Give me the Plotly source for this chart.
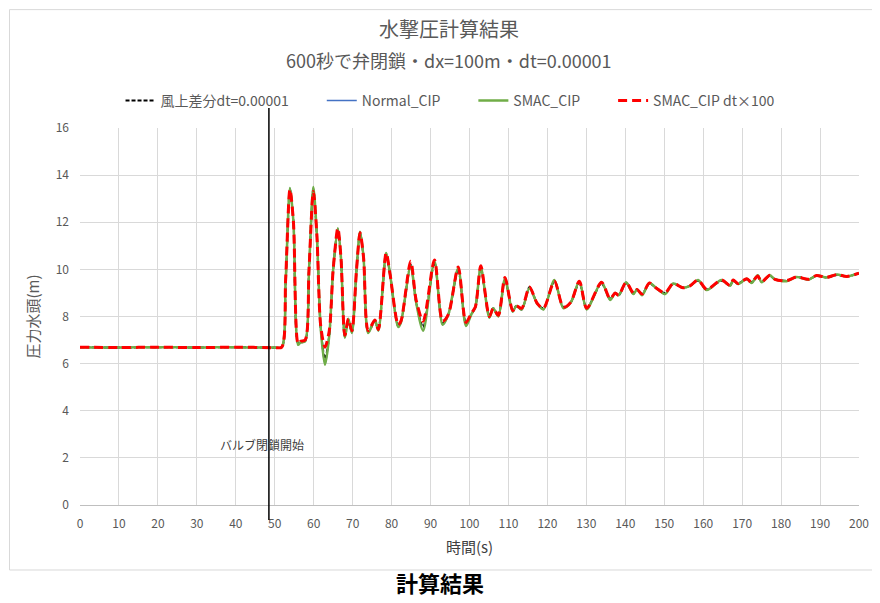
import plotly.graph_objects as go

# ---- data ----
time_s = [0, 10, 20, 30, 40, 50, 51.8, 52.8, 53.9, 54.8, 56.0, 56.6, 57.8, 58.8, 59.9, 60.8,
          61.8, 62.9, 64.0, 65.0, 66.2, 67.0, 68.0, 68.9, 69.8, 71.0, 71.9, 72.8, 74.0, 75.7,
          76.6, 78.6, 79.6, 81.7, 82.4, 84.9, 86.3, 88.1, 91.0, 93.1, 94.6, 97.1, 99.1, 100.5,
          101.5, 102.9, 105.1, 106.1, 107.4, 109.1, 111.1, 112.0, 113.4, 115.4, 117.4, 119.0,
          121.8, 124.1, 126.0, 128.2, 130.1, 133.9, 136.1, 137.4, 138.3, 140.2, 142.1, 143.0,
          144.3, 146.2, 148.0, 150.2, 152.3, 154.8, 156.6, 158.7, 160.9, 164.7, 166.9, 167.7,
          168.9, 171.2, 172.4, 174.0, 175.0, 177.1, 178.4, 181.4, 184.0, 187.0, 189.1, 191.7,
          194.3, 196.9, 200.0]

smac_cip = [6.70, 6.68, 6.70, 6.68, 6.70, 6.68, 6.70, 9.50, 13.45, 12.00, 6.80, 6.90, 6.95, 10.0, 13.50, 11.50,
            7.50, 5.95, 7.20, 10.0, 11.75, 10.50, 7.10, 7.90, 7.30, 10.0, 11.60, 10.50, 7.30, 7.85,
            7.40, 10.70, 9.80, 7.55, 7.75, 10.15, 8.60, 7.40, 10.35, 7.65, 8.10, 10.05, 7.60, 8.10,
            8.40, 10.10, 7.95, 8.35, 8.00, 9.60, 8.20, 8.45, 8.30, 9.20, 8.55, 8.30,
            9.55, 8.35, 8.60, 9.50, 8.30, 9.45, 8.70, 9.00, 8.90, 9.45, 8.95, 9.15,
            8.90, 9.42, 9.20, 8.95, 9.40, 9.22, 9.30, 9.55, 9.12, 9.55, 9.30, 9.55,
            9.38, 9.60, 9.42, 9.75, 9.45, 9.75, 9.58, 9.50, 9.68, 9.56, 9.74, 9.66,
            9.78, 9.70, 9.84]

normal_cip = [6.70, 6.68, 6.70, 6.68, 6.70, 6.68, 6.70, 9.50, 13.45, 12.00, 6.80, 6.90, 6.95, 10.0, 13.50, 11.50,
              7.50, 5.97, 7.20, 10.0, 11.75, 10.50, 7.10, 7.90, 7.30, 10.0, 11.60, 10.50, 7.30, 7.85,
              7.40, 10.70, 9.80, 7.55, 7.75, 10.15, 8.60, 7.40, 10.35, 7.65, 8.10, 10.05, 7.60, 8.10,
              8.40, 10.10, 7.95, 8.35, 8.00, 9.60, 8.20, 8.45, 8.30, 9.20, 8.55, 8.30,
              9.55, 8.35, 8.60, 9.50, 8.30, 9.45, 8.70, 9.00, 8.90, 9.45, 8.95, 9.15,
              8.90, 9.42, 9.20, 8.95, 9.40, 9.22, 9.30, 9.55, 9.12, 9.55, 9.30, 9.55,
              9.38, 9.60, 9.42, 9.75, 9.45, 9.75, 9.58, 9.50, 9.68, 9.56, 9.74, 9.66,
              9.78, 9.70, 9.84]

upwind = [6.70, 6.68, 6.70, 6.68, 6.70, 6.68, 6.70, 9.40, 13.40, 12.00, 6.85, 6.90, 6.95, 10.0, 13.40, 11.50,
          7.50, 6.20, 7.20, 10.0, 11.70, 10.50, 7.15, 7.80, 7.35, 10.0, 11.55, 10.50, 7.35, 7.80,
          7.45, 10.65, 9.80, 7.60, 7.75, 10.20, 8.60, 7.55, 10.30, 7.70, 8.10, 10.00, 7.70, 8.10,
          8.40, 10.05, 8.00, 8.35, 8.05, 9.55, 8.25, 8.45, 8.30, 9.25, 8.55, 8.35,
          9.50, 8.40, 8.60, 9.45, 8.35, 9.40, 8.75, 9.00, 8.90, 9.42, 9.00, 9.15,
          8.95, 9.40, 9.20, 9.00, 9.38, 9.22, 9.30, 9.52, 9.15, 9.52, 9.32, 9.52,
          9.40, 9.58, 9.45, 9.72, 9.47, 9.73, 9.58, 9.52, 9.68, 9.58, 9.72, 9.66,
          9.76, 9.70, 9.84]

smac_cip_dt100 = [6.70, 6.68, 6.70, 6.68, 6.70, 6.68, 6.70, 9.60, 13.40, 12.00, 6.85, 6.95, 7.00, 10.0, 13.30, 11.50,
                  7.60, 6.70, 7.40, 10.0, 11.75, 10.50, 7.20, 7.90, 7.40, 10.0, 11.55, 10.50, 7.40, 7.85,
                  7.45, 10.70, 9.80, 7.65, 7.80, 10.35, 8.70, 7.80, 10.40, 7.80, 8.10, 10.10, 7.75, 8.15,
                  8.40, 10.15, 8.00, 8.35, 8.05, 9.65, 8.25, 8.45, 8.35, 9.25, 8.55, 8.35,
                  9.50, 8.40, 8.60, 9.50, 8.35, 9.45, 8.75, 9.00, 8.90, 9.45, 9.00, 9.15,
                  8.95, 9.42, 9.20, 9.00, 9.40, 9.22, 9.30, 9.55, 9.15, 9.55, 9.32, 9.55,
                  9.40, 9.60, 9.45, 9.72, 9.47, 9.75, 9.58, 9.52, 9.68, 9.58, 9.74, 9.66,
                  9.78, 9.70, 9.84]

series_names = ["風上差分dt=0.00001", "Normal_CIP", "SMAC_CIP", "SMAC_CIP dt×100"]
x_ticks = list(range(0, 201, 10))
y_ticks = list(range(0, 17, 2))
VALVE_START = 48.5
X_RANGE = [0, 200]
Y_RANGE = [0, 16]

FONT = "Noto Sans CJK JP"
GRAY = "#595959"
PAD = "\u2003\u2003"  # spacing after legend entries

fig = go.Figure()
fig.add_trace(go.Scatter(x=time_s, y=upwind, mode="lines", name=series_names[0] + PAD,
                         line=dict(color="#000000", width=2, dash="4px,2px", shape="spline", smoothing=0.8)))
fig.add_trace(go.Scatter(x=time_s, y=normal_cip, mode="lines", name=series_names[1] + PAD,
                         line=dict(color="#4472C4", width=1.5, shape="spline", smoothing=0.8)))
fig.add_trace(go.Scatter(x=time_s, y=smac_cip, mode="lines", name=series_names[2] + PAD,
                         line=dict(color="#70AD47", width=2.5, shape="spline", smoothing=0.8)))
fig.add_trace(go.Scatter(x=time_s, y=smac_cip_dt100, mode="lines", name=series_names[3],
                         line=dict(color="#FF0000", width=3, dash="9px,5px", shape="spline", smoothing=0.8)))

vx = (VALVE_START - X_RANGE[0]) / (X_RANGE[1] - X_RANGE[0])

fig.update_layout(
    width=880, height=603,
    margin=dict(l=72, r=29, t=120, b=106),
    paper_bgcolor="white", plot_bgcolor="white",
    font=dict(family=FONT, color=GRAY, size=12),
    showlegend=True,
    legend=dict(orientation="h", x=0.475, xanchor="center", y=1.072, yanchor="middle",
                font=dict(size=14, color=GRAY), bgcolor="rgba(0,0,0,0)"),
    xaxis=dict(range=X_RANGE, tickvals=x_ticks, showgrid=True, gridcolor="#d9d9d9", gridwidth=1,
               zeroline=False, showline=True, linecolor="#bfbfbf", ticks="",
               tickfont=dict(size=12, color=GRAY), ticklabelstandoff=8,
               title=dict(text="時間(s)", font=dict(size=15, color="#404040"), standoff=12)),
    yaxis=dict(range=Y_RANGE, tickvals=y_ticks, showgrid=True, gridcolor="#d9d9d9", gridwidth=1,
               zeroline=False, showline=False, ticks="",
               tickfont=dict(size=12, color=GRAY), ticklabelstandoff=10,
               title=dict(text="圧力水頭(m)", font=dict(size=15, color=GRAY), standoff=12)),
    shapes=[
        dict(type="rect", xref="paper", yref="paper", x0=-0.0905, x1=1.04, y0=-0.1724, y1=1.314,
             line=dict(color="#d9d9d9", width=1), fillcolor="rgba(0,0,0,0)", layer="below"),
        dict(type="line", xref="paper", yref="paper", x0=vx, x1=vx, y0=-0.04, y1=1.053,
             line=dict(color="#000000", width=1.5)),
    ],
    annotations=[
        dict(text="水撃圧計算結果", xref="paper", yref="paper", x=0.474, y=1.263,
             showarrow=False, font=dict(size=20, color=GRAY), xanchor="center", yanchor="middle"),
        dict(text="600秒で弁閉鎖・dx=100m・dt=0.00001", xref="paper", yref="paper", x=0.474, y=1.18,
             showarrow=False, font=dict(size=18, color=GRAY), xanchor="center", yanchor="middle"),
        dict(text="バルブ閉鎖開始", xref="x", yref="y", x=46.7, y=2.55, showarrow=False,
             font=dict(size=12, color="#404040"), xanchor="center", yanchor="middle"),
        dict(text="<b>計算結果</b>", xref="paper", yref="paper", x=0.462, y=-0.204, showarrow=False,
             font=dict(size=22, color="#000000"), xanchor="center", yanchor="middle"),
    ],
)

fig.write_html("out.html")
